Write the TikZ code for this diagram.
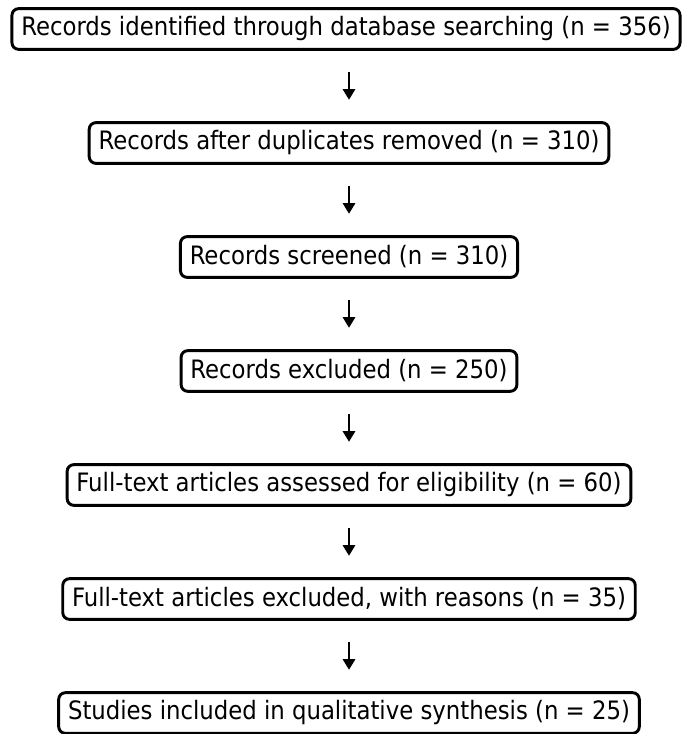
\documentclass[tikz,border=0pt]{standalone}
\usepackage{fontspec}
\setmainfont{DejaVu Sans Condensed}
\usetikzlibrary{positioning,arrows.meta}

\tikzset{
  stage/.style={draw, rounded corners=5pt, line width=2.2pt, minimum height=30.5pt,
    inner xsep=7pt, font=\fontsize{19}{21}\selectfont},
  flow/.style={line width=2.2pt, -{Triangle[width=9pt,length=8pt]},
    shorten <=16pt, shorten >=16pt},
}

\begin{document}
\begin{tikzpicture}[x=0.75pt,y=0.75pt, node distance=52.8pt]
	\useasboundingbox (0,0) rectangle (683,-734);
	\node [stage] (ident) at (346,-29) {Records identified through database searching (n = 356)};
	\node [stage, below=of ident, xshift=2.25pt] (dupl) {Records after duplicates removed (n = 310)};
	\node [stage, below=of dupl] (screen) {Records screened (n = 310)};
	\node [stage, below=of screen] (excl) {Records excluded (n = 250)};
	\node [stage, below=of excl] (full) {Full-text articles assessed for eligibility (n = 60)};
	\node [stage, below=of full] (fullex) {Full-text articles excluded, with reasons (n = 35)};
	\node [stage, below=of fullex] (incl) {Studies included in qualitative synthesis (n = 25)};

	\draw [flow] (ident.south -| dupl) -- (dupl);
	\draw [flow] (dupl) -- (screen);
	\draw [flow] (screen) -- (excl);
	\draw [flow] (excl) -- (full);
	\draw [flow] (full) -- (fullex);
	\draw [flow] (fullex) -- (incl);
\end{tikzpicture}
\end{document}
